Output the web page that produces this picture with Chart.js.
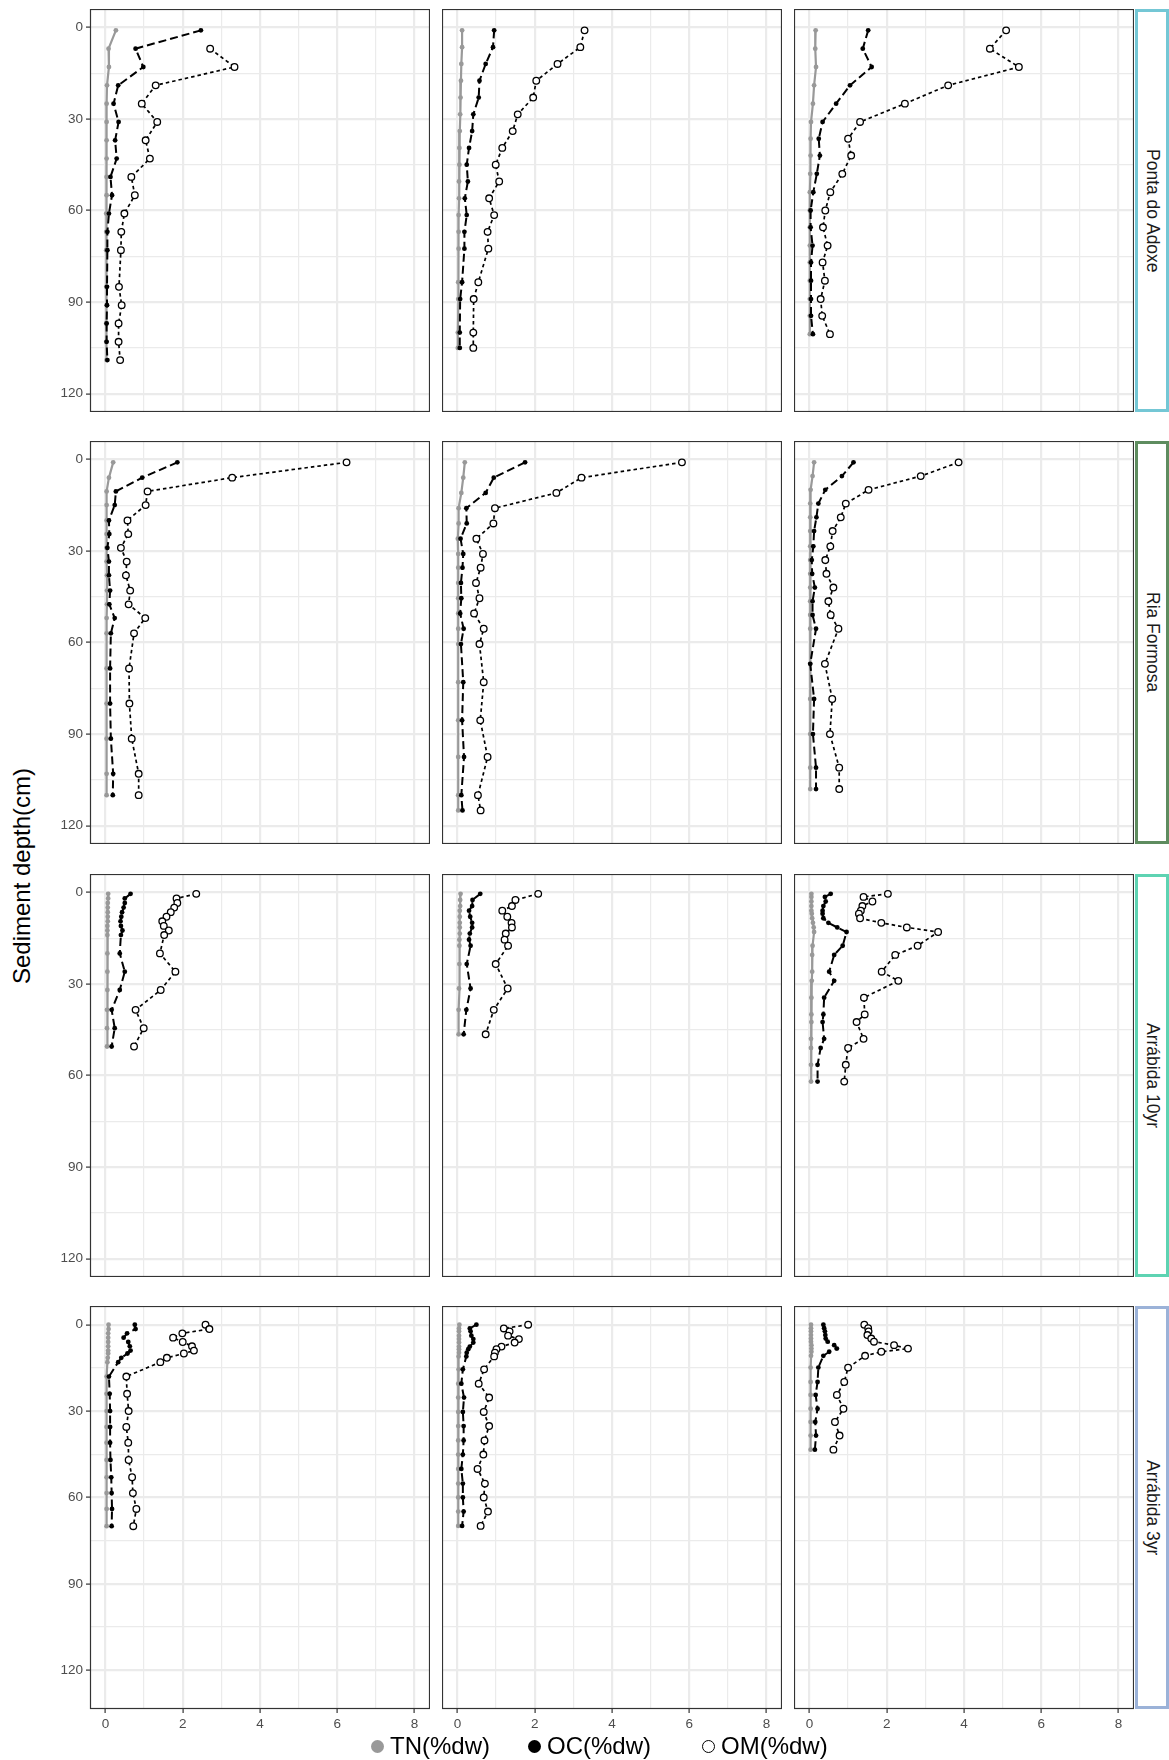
<!DOCTYPE html>
<html>
<head>
<meta charset="utf-8">
<script src="https://cdn.jsdelivr.net/npm/chart.js"></script>
<style>
body { margin: 0; background: #fff; width: 1169px; height: 1760px; position: relative; overflow: hidden; font-family: "Liberation Sans", Arial, sans-serif; }
canvas { position: absolute; }
.strip { position: absolute; box-sizing: border-box; border: 3px solid; background: #fff; display: flex; align-items: center; justify-content: center; }
.strip span { writing-mode: vertical-rl; font-size: 17.5px; color: #1a1a1a; }
#ytitle { position: absolute; left: 22px; top: 876px; transform: translate(-50%, -50%) rotate(-90deg); font-size: 24px; white-space: nowrap; color: #000; }
.leg { position: absolute; top: 1746px; transform: translateY(-50%); font-size: 24px; white-space: nowrap; display: flex; align-items: center; }
.dot { display: inline-block; width: 13px; height: 13px; border-radius: 50%; margin-right: 6px; box-sizing: border-box; }
</style>
</head>
<body>
<div id="ytitle">Sediment depth(cm)</div>
<script>
// facet labels (rows) and series names
var siteNames = ['Ponta do Adoxe', 'Ria Formosa', 'Arrábida 10yr', 'Arrábida 3yr'];
var stripColors = ['#74C7D5', '#5E8C5F', '#5ED3B2', '#9BB2D8'];
var seriesNames = ['TN(%dw)', 'OC(%dw)', 'OM(%dw)'];
var xTickVals = [0, 1, 2, 3, 4, 5, 6, 7, 8];
var yTickVals = [0, 15, 30, 45, 60, 75, 90, 105, 120];

// Ponta do Adoxe
var adoxe1Depth = [1, 7, 13, 19, 25, 31, 37, 43, 49, 55, 61, 67, 73, 85, 91, 97, 103, 109];
var adoxe1TN = [0.27, 0.08, 0.09, 0.04, 0.03, 0.03, 0.03, 0.03, 0.03, 0.03, 0.02, 0.02, 0.02, 0.02, 0.03, 0.02, 0.02, 0.03];
var adoxe1OC = [2.47, 0.78, 0.98, 0.33, 0.21, 0.34, 0.25, 0.29, 0.13, 0.17, 0.09, 0.05, 0.05, 0.04, 0.04, 0.03, 0.03, 0.05];
var adoxe1OM = [null, 2.71, 3.34, 1.30, 0.94, 1.34, 1.04, 1.15, 0.67, 0.76, 0.49, 0.41, 0.40, 0.35, 0.42, 0.34, 0.34, 0.38];

var adoxe2Depth = [1, 6.5, 12, 17.5, 23, 28.5, 34, 39.5, 45, 50.5, 56, 61.5, 67, 72.5, 83.5, 89, 100, 105];
var adoxe2TN = [0.12, 0.12, 0.10, 0.09, 0.08, 0.07, 0.06, 0.05, 0.05, 0.04, 0.04, 0.03, 0.03, 0.03, 0.02, 0.02, 0.01, 0.01];
var adoxe2OC = [0.95, 0.92, 0.73, 0.57, 0.55, 0.41, 0.38, 0.30, 0.24, 0.27, 0.19, 0.24, 0.18, 0.18, 0.12, 0.07, 0.06, 0.06];
var adoxe2OM = [3.29, 3.18, 2.59, 2.04, 1.96, 1.56, 1.43, 1.16, 0.99, 1.08, 0.82, 0.95, 0.78, 0.80, 0.54, 0.42, 0.41, 0.41];

var adoxe3Depth = [1, 7, 13, 19, 25, 31, 36.5, 42, 48, 54, 60, 65.5, 71.5, 77, 83, 89, 94.5, 100.5];
var adoxe3TN = [0.16, 0.15, 0.17, 0.12, 0.09, 0.04, 0.03, 0.03, 0.02, 0.01, 0.01, 0.01, 0.01, 0.01, 0.01, 0.01, 0.01, 0.01];
var adoxe3OC = [1.52, 1.38, 1.61, 1.05, 0.69, 0.34, 0.24, 0.27, 0.19, 0.10, 0.03, 0.03, 0.08, 0.04, 0.04, 0.04, 0.04, 0.09];
var adoxe3OM = [5.09, 4.67, 5.42, 3.59, 2.47, 1.31, 1.00, 1.08, 0.85, 0.54, 0.41, 0.35, 0.47, 0.34, 0.40, 0.29, 0.33, 0.53];

// Ria Formosa
var ria1Depth = [1, 6, 10.5, 15, 20, 24.5, 29, 33.5, 38, 43, 47.5, 52, 57, 68.5, 80, 91.5, 103, 110];
var ria1TN = [0.20, 0.09, 0.03, 0.03, 0.03, 0.03, 0.03, 0.03, 0.04, 0.04, 0.04, 0.03, 0.03, 0.03, 0.03, 0.03, 0.03, 0.03];
var ria1OC = [1.86, 0.95, 0.27, 0.24, 0.09, 0.10, 0.05, 0.09, 0.09, 0.12, 0.10, 0.24, 0.14, 0.12, 0.12, 0.14, 0.20, 0.19];
var ria1OM = [6.24, 3.28, 1.09, 1.04, 0.57, 0.59, 0.40, 0.55, 0.53, 0.64, 0.60, 1.03, 0.74, 0.61, 0.62, 0.68, 0.86, 0.86];

var ria2Depth = [1, 6, 11, 16, 21, 26, 31, 35.5, 40.5, 45.5, 50.5, 55.5, 60.5, 73, 85.5, 97.5, 110, 115];
var ria2TN = [0.19, 0.15, 0.10, 0.03, 0.03, 0.01, 0.02, 0.02, 0.02, 0.02, 0.02, 0.02, 0.02, 0.02, 0.02, 0.02, 0.02, 0.02];
var ria2OC = [1.75, 0.94, 0.73, 0.23, 0.24, 0.08, 0.15, 0.13, 0.09, 0.10, 0.07, 0.16, 0.09, 0.15, 0.12, 0.17, 0.10, 0.13];
var ria2OM = [5.81, 3.21, 2.56, 0.97, 0.93, 0.49, 0.66, 0.60, 0.48, 0.57, 0.43, 0.68, 0.57, 0.68, 0.59, 0.78, 0.53, 0.60];

var ria3Depth = [1, 5.5, 10, 14.5, 19, 23.5, 28.5, 33, 37.5, 42, 46.5, 51, 55.5, 67, 78.5, 90, 101, 108];
var ria3TN = [0.12, 0.08, 0.03, 0.02, 0.02, 0.02, 0.02, 0.02, 0.02, 0.02, 0.02, 0.02, 0.02, 0.02, 0.02, 0.02, 0.02, 0.02];
var ria3OC = [1.14, 0.84, 0.41, 0.23, 0.18, 0.12, 0.10, 0.06, 0.07, 0.14, 0.08, 0.08, 0.17, 0.02, 0.12, 0.09, 0.17, 0.17];
var ria3OM = [3.86, 2.88, 1.53, 0.94, 0.81, 0.60, 0.54, 0.41, 0.44, 0.62, 0.49, 0.55, 0.75, 0.40, 0.59, 0.53, 0.77, 0.77];

// Arrabida 10yr
var arr10aDepth = [0.5, 2, 3.5, 5, 6.5, 8, 9.5, 11, 12.5, 14, 20, 26, 32, 38.5, 44.5, 50.5];
var arr10aTN = [0.07, 0.07, 0.06, 0.06, 0.06, 0.06, 0.06, 0.05, 0.05, 0.05, 0.05, 0.05, 0.05, 0.04, 0.04, 0.04];
var arr10aOC = [0.65, 0.50, 0.50, 0.47, 0.43, 0.41, 0.39, 0.40, 0.44, 0.40, 0.37, 0.50, 0.37, 0.16, 0.24, 0.16];
var arr10aOM = [2.35, 1.84, 1.86, 1.78, 1.69, 1.58, 1.47, 1.51, 1.64, 1.52, 1.41, 1.81, 1.43, 0.78, 0.99, 0.74];

var arr10bDepth = [0.5, 2.5, 4.5, 6, 8, 10, 11.5, 13.5, 15.5, 17.5, 23.5, 31.5, 38.5, 46.5];
var arr10bTN = [0.08, 0.07, 0.07, 0.06, 0.06, 0.06, 0.06, 0.06, 0.05, 0.05, 0.05, 0.04, 0.03, 0.03];
var arr10bOC = [0.59, 0.39, 0.38, 0.30, 0.33, 0.38, 0.38, 0.32, 0.30, 0.34, 0.24, 0.34, 0.23, 0.16];
var arr10bOM = [2.09, 1.50, 1.41, 1.16, 1.29, 1.40, 1.41, 1.25, 1.22, 1.31, 0.99, 1.30, 0.94, 0.73];

var arr10cDepth = [0.5, 1.5, 3, 4.5, 6, 7, 8.5, 10, 11.5, 13, 17.5, 20.5, 26, 29, 34.5, 40, 42.5, 48, 51, 56.5, 62];
var arr10cTN = [0.05, 0.05, 0.05, 0.05, 0.05, 0.06, 0.07, 0.09, 0.11, 0.12, 0.08, 0.07, 0.07, 0.06, 0.05, 0.05, 0.05, 0.04, 0.04, 0.04, 0.04];
var arr10cOC = [0.55, 0.40, 0.42, 0.36, 0.34, 0.34, 0.36, 0.49, 0.72, 0.96, 0.86, 0.64, 0.51, 0.64, 0.38, 0.36, 0.34, 0.38, 0.29, 0.21, 0.21];
var arr10cOM = [2.03, 1.40, 1.63, 1.37, 1.33, 1.28, 1.31, 1.86, 2.52, 3.33, 2.80, 2.22, 1.87, 2.30, 1.41, 1.43, 1.22, 1.40, 1.00, 0.94, 0.90];

// Arrabida 3yr
var arr3aDepth = [0, 1.5, 3, 4.5, 6, 7.5, 9, 10, 11.5, 13, 18, 24, 30, 35.5, 41, 47, 53, 58.5, 64, 70];
var arr3aTN = [0.08, 0.08, 0.07, 0.07, 0.07, 0.07, 0.07, 0.07, 0.06, 0.05, 0.03, 0.03, 0.03, 0.03, 0.03, 0.03, 0.03, 0.03, 0.03, 0.03];
var arr3aOC = [0.76, 0.78, 0.56, 0.47, 0.59, 0.63, 0.65, 0.57, 0.41, 0.33, 0.09, 0.11, 0.12, 0.12, 0.12, 0.13, 0.15, 0.16, 0.17, 0.16];
var arr3aOM = [2.59, 2.69, 1.99, 1.75, 2.00, 2.24, 2.29, 2.03, 1.59, 1.42, 0.54, 0.56, 0.60, 0.54, 0.59, 0.60, 0.69, 0.71, 0.80, 0.72];

var arr3bDepth = [0, 1.3, 2.3, 3.8, 5, 6.2, 7.6, 8.5, 9.7, 11, 15.5, 20.5, 25.3, 30.3, 35.2, 40.2, 45.1, 50.1, 55.2, 60, 64.9, 69.9];
var arr3bTN = [0.05, 0.04, 0.04, 0.04, 0.04, 0.04, 0.04, 0.04, 0.04, 0.03, 0.03, 0.02, 0.02, 0.02, 0.02, 0.02, 0.02, 0.02, 0.02, 0.02, 0.02, 0.02];
var arr3bOC = [0.49, 0.32, 0.34, 0.36, 0.41, 0.41, 0.32, 0.28, 0.24, 0.23, 0.14, 0.10, 0.17, 0.14, 0.16, 0.16, 0.14, 0.10, 0.14, 0.14, 0.16, 0.12];
var arr3bOM = [1.83, 1.20, 1.35, 1.31, 1.59, 1.48, 1.14, 1.01, 0.97, 0.95, 0.69, 0.55, 0.82, 0.68, 0.82, 0.70, 0.67, 0.52, 0.71, 0.68, 0.79, 0.60];

var arr3cDepth = [0, 1.2, 2.3, 3.6, 4.8, 5.9, 7.1, 8.3, 9.4, 10.8, 14.9, 19.9, 24.4, 29.2, 33.8, 38.5, 43.4];
var arr3cTN = [0.04, 0.04, 0.04, 0.04, 0.04, 0.04, 0.05, 0.05, 0.05, 0.04, 0.03, 0.03, 0.03, 0.03, 0.03, 0.03, 0.03];
var arr3cOC = [0.36, 0.38, 0.40, 0.41, 0.42, 0.47, 0.64, 0.71, 0.51, 0.36, 0.23, 0.21, 0.16, 0.21, 0.15, 0.17, 0.14];
var arr3cOM = [1.42, 1.52, 1.53, 1.50, 1.60, 1.67, 2.19, 2.55, 1.86, 1.44, 1.00, 0.90, 0.71, 0.88, 0.66, 0.78, 0.62];

var panels = [
    [[adoxe1Depth, adoxe1TN, adoxe1OC, adoxe1OM], [adoxe2Depth, adoxe2TN, adoxe2OC, adoxe2OM], [adoxe3Depth, adoxe3TN, adoxe3OC, adoxe3OM]],
    [[ria1Depth, ria1TN, ria1OC, ria1OM], [ria2Depth, ria2TN, ria2OC, ria2OM], [ria3Depth, ria3TN, ria3OC, ria3OM]],
    [[arr10aDepth, arr10aTN, arr10aOC, arr10aOM], [arr10bDepth, arr10bTN, arr10bOC, arr10bOM], [arr10cDepth, arr10cTN, arr10cOC, arr10cOM]],
    [[arr3aDepth, arr3aTN, arr3aOC, arr3aOM], [arr3bDepth, arr3bTN, arr3bOC, arr3bOM], [arr3cDepth, arr3cTN, arr3cOC, arr3cOM]]
];

// layout
var colLeft = [90, 442, 794];
var rowTop = [9, 441, 874, 1306];
var panelW = 340, panelH = 403, yAxisW = 44, xAxisH = 30;
var yRange = [[-6, 126], [-6, 126], [-6, 126], [-6.5, 133.5]];
var fontFam = '"Liberation Sans", Arial, sans-serif';

var panelBorder = {
    id: 'panelBorder',
    afterDraw: function (chart) {
        var a = chart.chartArea, c = chart.ctx;
        c.save();
        c.strokeStyle = '#333333';
        c.lineWidth = 1.2;
        c.strokeRect(a.left + 0.5, a.top + 0.5, a.right - a.left - 1, a.bottom - a.top - 1);
        c.restore();
    }
};

function toPts(depth, vals) {
    var out = [];
    for (var i = 0; i < depth.length; i++) {
        if (vals[i] !== null) out.push({ x: vals[i], y: depth[i] });
    }
    return out;
}

function noPad(s) {
    s.paddingTop = 0; s.paddingBottom = 0; s.paddingLeft = 0; s.paddingRight = 0;
}

function makePanel(r, c) {
    var showY = c === 0, showX = r === 3;
    var p = panels[r][c];
    var cv = document.createElement('canvas');
    var w = panelW + (showY ? yAxisW : 0), h = panelH + (showX ? xAxisH : 0);
    cv.width = w; cv.height = h;
    cv.style.width = w + 'px'; cv.style.height = h + 'px';
    cv.style.left = (colLeft[c] - (showY ? yAxisW : 0)) + 'px';
    cv.style.top = rowTop[r] + 'px';
    document.body.appendChild(cv);

    new Chart(cv, {
        type: 'scatter',
        data: {
            datasets: [
                {
                    label: seriesNames[0], data: toPts(p[0], p[1]), showLine: true,
                    borderColor: '#999999', backgroundColor: '#999999', borderWidth: 2.2,
                    pointRadius: 2.4, pointBorderWidth: 0, order: 2
                },
                {
                    label: seriesNames[1], data: toPts(p[0], p[2]), showLine: true,
                    borderColor: '#000000', backgroundColor: '#000000', borderWidth: 2, borderDash: [8, 4],
                    pointRadius: 2.4, pointBorderWidth: 0, order: 1
                },
                {
                    label: seriesNames[2], data: toPts(p[0], p[3]), showLine: true,
                    borderColor: '#000000', backgroundColor: '#ffffff', borderWidth: 1.7, borderDash: [3.5, 3],
                    pointRadius: 3.3, pointBorderWidth: 1.3, pointBorderColor: '#000000', pointBackgroundColor: '#ffffff', order: 0
                }
            ]
        },
        options: {
            responsive: false, animation: false, devicePixelRatio: 1,
            layout: { padding: 0, autoPadding: false },
            plugins: { legend: { display: false }, tooltip: { enabled: false } },
            scales: {
                x: {
                    type: 'linear', min: -0.4, max: 8.4, position: 'bottom',
                    afterBuildTicks: function (s) { s.ticks = xTickVals.map(function (v) { return { value: v }; }); },
                    afterFit: function (s) { s.height = showX ? xAxisH : 0; noPad(s); },
                    ticks: {
                        display: showX, autoSkip: false, maxRotation: 0, padding: 3, color: '#4D4D4D',
                        font: { size: 13.5, family: fontFam },
                        callback: function (v) { return v % 2 === 0 ? String(v) : ''; }
                    },
                    grid: {
                        color: '#EBEBEB',
                        lineWidth: function (ctx) { return ctx.tick && ctx.tick.value % 2 === 0 ? 2.2 : 1.2; },
                        drawTicks: showX, tickLength: 4, tickWidth: 1.2,
                        tickColor: function (ctx) { return ctx.tick && ctx.tick.value % 2 === 0 ? '#333333' : 'rgba(0,0,0,0)'; }
                    },
                    border: { display: false }
                },
                y: {
                    type: 'linear', min: yRange[r][0], max: yRange[r][1], reverse: true,
                    afterBuildTicks: function (s) { s.ticks = yTickVals.map(function (v) { return { value: v }; }); },
                    afterFit: function (s) { s.width = showY ? yAxisW : 0; noPad(s); },
                    ticks: {
                        display: showY, autoSkip: false, padding: 3, color: '#4D4D4D',
                        font: { size: 13.5, family: fontFam },
                        callback: function (v) { return v % 30 === 0 ? String(v) : ''; }
                    },
                    grid: {
                        color: '#EBEBEB',
                        lineWidth: function (ctx) { return ctx.tick && ctx.tick.value % 30 === 0 ? 2.2 : 1.2; },
                        drawTicks: showY, tickLength: 4, tickWidth: 1.2,
                        tickColor: function (ctx) { return ctx.tick && ctx.tick.value % 30 === 0 ? '#333333' : 'rgba(0,0,0,0)'; }
                    },
                    border: { display: false }
                }
            }
        },
        plugins: [panelBorder]
    });
}

for (var r = 0; r < 4; r++) {
    for (var c = 0; c < 3; c++) makePanel(r, c);
    var st = document.createElement('div');
    st.className = 'strip';
    st.style.left = '1135px'; st.style.top = rowTop[r] + 'px';
    st.style.width = '34px'; st.style.height = panelH + 'px';
    st.style.borderColor = stripColors[r];
    st.innerHTML = '<span>' + siteNames[r] + '</span>';
    document.body.appendChild(st);
}

// legend
var legX = [371, 528, 702];
var legDot = [
    'background:#999999;',
    'background:#000000;',
    'background:#ffffff;border:1.6px solid #000;'
];
for (var i = 0; i < 3; i++) {
    var lg = document.createElement('div');
    lg.className = 'leg';
    lg.style.left = legX[i] + 'px';
    lg.innerHTML = '<span class="dot" style="' + legDot[i] + '"></span>' + seriesNames[i];
    document.body.appendChild(lg);
}
</script>
</body>
</html>
